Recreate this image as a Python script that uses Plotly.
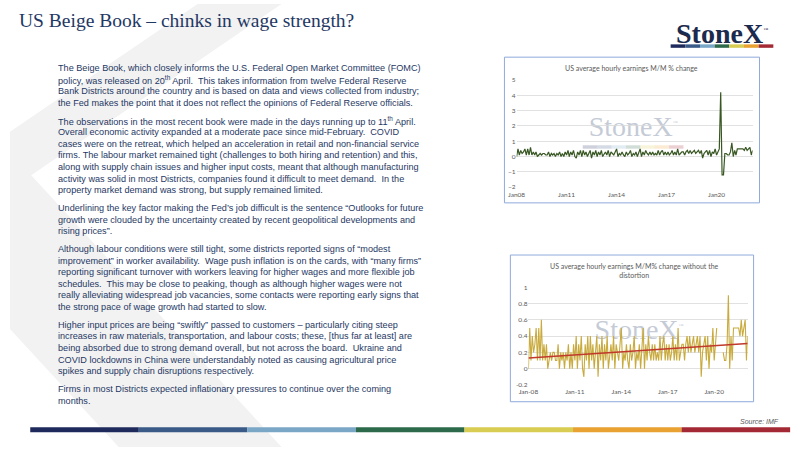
import pandas as pd
import plotly.graph_objects as go


# US average hourly earnings, M/M % change, monthly from Jan 2008
ahe_2008 = [0.0, 0.5, 0.1, 0.4, 0.2, 0.3, 0.5, 0.1, 0.5, 0.1, 0.6, 0.1]
ahe_2009 = [0.3, 0.1, 0.3, 0.0, 0.1, 0.2, 0.1, 0.2, 0.2, 0.1, 0.1, 0.3]
ahe_2010 = [0.0, 0.2, 0.1, 0.2, 0.0, 0.2, 0.1, 0.3, 0.0, 0.2, 0.0, 0.3]
ahe_2011 = [0.1, 0.4, 0.0, 0.3, 0.1, 0.4, 0.0, -0.1, 0.3, 0.1, 0.4, 0.0]
ahe_2012 = [0.4, 0.1, 0.3, 0.0, 0.2, 0.4, -0.1, 0.3, 0.1, 0.4, 0.0, 0.3]
ahe_2013 = [0.1, 0.4, 0.0, 0.2, 0.3, 0.1, 0.4, 0.0, 0.3, 0.2, 0.1, 0.3]
ahe_2014 = [0.5, 0.0, 0.2, 0.1, 0.3, 0.1, 0.0, 0.3, 0.1, 0.2, 0.4, 0.0]
ahe_2015 = [0.2, 0.1, 0.3, 0.0, 0.2, 0.5, 0.0, 0.3, 0.1, 0.4, 0.2, 0.1]
ahe_2016 = [0.3, 0.1, 0.3, 0.1, 0.2, 0.1, 0.4, 0.1, 0.3, 0.4, 0.1, 0.3]
ahe_2017 = [0.1, 0.3, 0.1, 0.2, 0.4, 0.1, 0.3, 0.1, 0.5, 0.1, 0.2, 0.3]
ahe_2018 = [0.3, 0.1, 0.3, 0.4, 0.2, 0.4, 0.2, 0.3, 0.4, 0.2, 0.3, 0.4]
ahe_2019 = [0.2, 0.4, -0.1, 0.2, 0.3, 0.4, 0.1, 0.4, 0.0, 0.3, 0.2, 0.5]
ahe_2020 = [0.1, 0.3, 0.5, 4.2, -1.2, -1.2, 0.2, 0.2, 0.1, 0.1, 0.3, 0.9]
ahe_2021 = [0.0, 0.4, 0.1, 0.5, 0.5, 0.5, 0.5, 0.5, 0.4, 0.6, 0.4, 0.5]
ahe_2022 = [0.6, 0.1, 0.4]

# months dropped from the second chart
distortion_months = ["2020-04", "2020-05", "2020-06", "2020-07"]

# linear trend of the second chart, start and end value
trend_start = 0.13
trend_end = 0.31

ticks_dates = ["2008-01-01", "2011-01-01", "2014-01-01", "2017-01-01", "2020-01-01"]
ticks_chart1 = ["Jan08", "Jan11", "Jan14", "Jan17", "Jan20"]
ticks_chart2 = ["Jan-08", "Jan-11", "Jan-14", "Jan-17", "Jan-20"]
y2_vals = [-0.2, 0, 0.2, 0.4, 0.6, 0.8, 1]
y2_text = ["-0.2", "0", "0.2", "0.4", "0.6", "0.8", "1"]

TITLE = "US Beige Book \u2013 chinks in wage strength?"
CHART1_TITLE = "US average hourly earnings M/M % change"
CHART2_TITLE = "US average hourly earnings M/M% change without the<br>distortion"
TM = "<sup><span style='font-size:5px'>\u2122</span></sup>"

SP = "\u00a0 "
PARAGRAPHS = [
    [
        "The Beige Book, which closely informs the U.S. Federal Open Market Committee (FOMC)",
        "policy, was released on 20<sup>th</sup> April." + SP + "This takes information from twelve Federal Reserve",
        "Bank Districts around the country and is based on data and views collected from industry;",
        "the Fed makes the point that it does not reflect the opinions of Federal Reserve officials.",
    ],
    [
        "The observations in the most recent book were made in the days running up to 11<sup>th</sup> April.",
        "Overall economic activity expanded at a moderate pace since mid-February." + SP + "COVID",
        "cases were on the retreat, which helped an acceleration in retail and non-financial service",
        "firms. The labour market remained tight (challenges to both hiring and retention) and this,",
        "along with supply chain issues and higher input costs, meant that although manufacturing",
        "activity was solid in most Districts, companies found it difficult to meet demand." + SP + "In the",
        "property market demand was strong, but supply remained limited.",
    ],
    [
        "Underlining the key factor making the Fed\u2019s job difficult is the sentence \u201cOutlooks for future",
        "growth were clouded by the uncertainty created by recent geopolitical developments and",
        "rising prices\u201d.",
    ],
    [
        "Although labour conditions were still tight, some districts reported signs of \u201cmodest",
        "improvement\u201d in worker availability." + SP + "Wage push inflation is on the cards, with \u201cmany firms\u201d",
        "reporting significant turnover with workers leaving for higher wages and more flexible job",
        "schedules." + SP + "This may be close to peaking, though as although higher wages were not",
        "really alleviating widespread job vacancies, some contacts were reporting early signs that",
        "the strong pace of wage growth had started to slow.",
    ],
    [
        "Higher input prices are being \u201cswiftly\u201d passed to customers \u2013 particularly citing steep",
        "increases in raw materials, transportation, and labour costs; these, [thus far at least] are",
        "being absorbed due to strong demand overall, but not across the board." + SP + "Ukraine and",
        "COVID lockdowns in China were understandably noted as causing agricultural price",
        "spikes and supply chain disruptions respectively.",
    ],
    [
        "Firms in most Districts expected inflationary pressures to continue over the coming",
        "months.",
    ],
]

BRAND = ["#1f2a5c", "#3a5a88", "#7ba7c7", "#2d6a4b", "#d9cc52", "#e9a232", "#a32a35"]
TEXT_COLOR = "#1f3864"
AXIS_GREY = "#595959"
GRID = "#d9d9d9"
BOX = "#8faadc"
WATERMARK = "#c5cbd6"


def main():

    ahe_mm = (ahe_2008 + ahe_2009 + ahe_2010 + ahe_2011 + ahe_2012 + ahe_2013
              + ahe_2014 + ahe_2015 + ahe_2016 + ahe_2017 + ahe_2018
              + ahe_2019 + ahe_2020 + ahe_2021 + ahe_2022)
    months = pd.date_range("2008-01-01", periods=len(ahe_mm), freq="MS")
    ahe_clean = [None if m.strftime("%Y-%m") in distortion_months else v
                 for m, v in zip(months, ahe_mm)]

    fig = go.Figure()

    # watermarks, on the pixel overlay so they sit under the data lines
    for x, y in [(631, 127), (637, 333)]:
        fig.add_trace(go.Scatter(
            x=[x], y=[y], mode="text",
            text=["StoneX" + TM],
            textfont=dict(family="Liberation Serif", size=28, color=WATERMARK),
            xaxis="x", yaxis="y", hoverinfo="skip"))

    fig.add_trace(go.Scatter(
        x=months, y=ahe_mm, mode="lines",
        line=dict(color="#385723", width=1.2),
        xaxis="x2", yaxis="y2", hoverinfo="skip"))

    fig.add_trace(go.Scatter(
        x=months, y=ahe_clean, mode="lines", connectgaps=False,
        line=dict(color="#c9aa3c", width=1.1),
        xaxis="x3", yaxis="y3", hoverinfo="skip"))

    fig.add_trace(go.Scatter(
        x=[months[0], months[-1]], y=[trend_start, trend_end], mode="lines",
        line=dict(color="#c0392b", width=1.5),
        xaxis="x3", yaxis="y3", hoverinfo="skip"))

    date_range = [months[0], months[-1]]
    tick_font = dict(family="Lato", size=6.5, color=AXIS_GREY)

    fig.update_layout(
        width=800, height=450,
        margin=dict(l=0, r=0, t=0, b=0),
        showlegend=False,
        paper_bgcolor="white",
        plot_bgcolor="rgba(0,0,0,0)",
        # pixel overlay for the slide furniture
        xaxis=dict(domain=[0, 1], range=[0, 800], visible=False, fixedrange=True),
        yaxis=dict(domain=[0, 1], range=[450, 0], visible=False, fixedrange=True),
        xaxis2=dict(
            domain=[513 / 800, 752 / 800], anchor="y2", type="date",
            range=date_range, tickvals=ticks_dates, ticktext=ticks_chart1,
            showgrid=False, zeroline=False, showline=False, ticks="",
            ticklabelstandoff=2, tickfont=tick_font),
        yaxis2=dict(
            domain=[1 - 186 / 450, 1 - 77.3 / 450], anchor="x2",
            range=[-2, 5], dtick=1, gridcolor=GRID, gridwidth=0.8,
            zeroline=False, showline=False, ticks="", tickfont=tick_font),
        xaxis3=dict(
            domain=[525 / 800, 747 / 800], anchor="y3", type="date",
            range=date_range, tickvals=ticks_dates, ticktext=ticks_chart2,
            showgrid=False, zeroline=False, showline=False, ticks="",
            ticklabelstandoff=2, tickfont=tick_font),
        yaxis3=dict(
            domain=[1 - 387 / 450, 1 - 287.7 / 450], anchor="x3",
            range=[-0.2, 1], tickvals=y2_vals, ticktext=y2_text,
            gridcolor=GRID, gridwidth=0.8,
            zeroline=False, showline=False, ticks="", tickfont=tick_font),
    )

    shapes = []
    # grey chevron in the background
    shapes.append(dict(
        type="path", xref="x", yref="y", layer="below",
        path="M 190,0 L 275,0 L 21.5,174 L 275,450 L 110,450 L -113,207 Z",
        fillcolor="#f2f2f2", line_width=0))
    # chart frames
    for x0, y0, x1, y1 in [(500.7, 54, 759, 202), (506.7, 255, 753, 404)]:
        shapes.append(dict(
            type="rect", xref="x", yref="y", layer="below",
            x0=x0, y0=y0, x1=x1, y1=y1,
            fillcolor="white", line=dict(color=BOX, width=1)))
    # faint brand strip under the first watermark
    seg = (682 - 580) / len(BRAND)
    for i, c in enumerate(BRAND):
        shapes.append(dict(
            type="rect", xref="x", yref="y", layer="below",
            x0=580 + i * seg, x1=580 + (i + 1) * seg, y0=143.5, y1=147,
            fillcolor=c, opacity=0.22, line_width=0))
    # logo strip
    seg = (773 - 669) / len(BRAND)
    for i, c in enumerate(BRAND):
        shapes.append(dict(
            type="rect", xref="x", yref="y",
            x0=669 + i * seg, x1=669 + (i + 1) * seg, y0=41, y1=44.5,
            fillcolor=c, line_width=0))
    # bottom strip
    seg = (790 - 20.5) / len(BRAND)
    for i, c in enumerate(BRAND):
        shapes.append(dict(
            type="rect", xref="x", yref="y",
            x0=20.5 + i * seg, x1=20.5 + (i + 1) * seg, y0=430, y1=435,
            fillcolor=c, line_width=0))
    fig.update_layout(shapes=shapes)

    def note(x, y, text, size, color, family="Liberation Sans",
             xanchor="left", yanchor="middle"):
        fig.add_annotation(
            x=x, y=y, xref="x", yref="y", text=text, showarrow=False,
            xanchor=xanchor, yanchor=yanchor, align=xanchor,
            font=dict(family=family, size=size, color=color))

    note(7, 17, TITLE, 19.5, TEXT_COLOR, family="Liberation Serif")
    note(721, 30, "<b>StoneX</b>" + TM, 28, "#1c2a4d",
         family="Liberation Serif", xanchor="center")

    # body text, line by line
    line_step = 11.8
    para_gap = 6.2
    y = 65
    for para in PARAGRAPHS:
        for line in para:
            note(47, y, line, 9.15, TEXT_COLOR)
            y += line_step
        y += para_gap

    note(629, 65, CHART1_TITLE, 7, AXIS_GREY, family="Lato", xanchor="center")
    note(632, 270.5, CHART2_TITLE, 7, AXIS_GREY, family="Lato", xanchor="center")
    note(781, 424, "<i>Source: IMF</i>", 7, AXIS_GREY, xanchor="right")

    # the page body has a default 8px margin; drop it so the slide fills the window
    fig.write_html(
        "out.html",
        config={"displayModeBar": False, "staticPlot": True},
        post_script="document.body.style.margin = '0';")


if __name__ == "__main__":

    main()
